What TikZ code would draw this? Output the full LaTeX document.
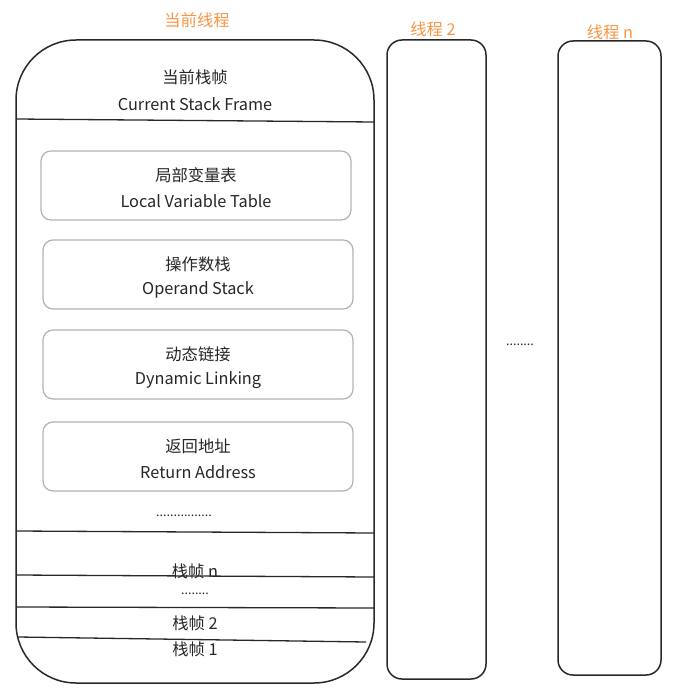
\documentclass[tikz,border=0pt]{standalone}
\usepackage{fontspec}
\setmainfont{Noto Sans CJK SC}
\definecolor{threadorange}{RGB}{247,150,70}
\definecolor{framegray}{RGB}{178,178,178}
\definecolor{linedark}{RGB}{40,40,40}
\begin{document}
\begin{tikzpicture}[x=1pt,y=-1pt,
  every node/.style={inner sep=0pt, font=\fontsize{16.3}{19}\selectfont, text=black!85},
  title/.style={text=threadorange},
  slot/.style={draw=framegray, line width=1.2pt, rounded corners=10pt},
  outer/.style={draw=linedark, line width=1.5pt},
  divider/.style={draw=linedark, line width=1.3pt},
  dotrow/.style={font=\fontsize{12.5}{14}\selectfont}]
\useasboundingbox (0,0) rectangle (680,700);

% current thread
\draw[outer, rounded corners=60pt] (16,40) rectangle (374,683);
\node[title] (t1) at (197,20) {当前线程};
\node (cur) at (195,77) {当前栈帧};
\node (curEn) at (195,104) {Current Stack Frame};
\coordinate (d0l) at (16,119); \coordinate (d0r) at (374,122);
\draw[divider] (d0l) -- (d0r);

% parts of the current frame
\draw[slot] (41,151) rectangle (351,220);
\node (lv) at (196,175) {局部变量表};
\node (lvEn) at (196,201) {Local Variable Table};
\draw[slot] (43,240) rectangle (353,309);
\node (os) at (198,264) {操作数栈};
\node (osEn) at (198,290) {Operand Stack};
\draw[slot] (43,330) rectangle (353,399);
\node (dl) at (198,354) {动态链接};
\node (dlEn) at (198,380) {Dynamic Linking};
\draw[slot] (43,422) rectangle (353,491);
\node (ra) at (198,446) {返回地址};
\node (raEn) at (198,472) {Return Address};
\node[dotrow] (dots1) at (184,516) {................};

% remaining frames
\coordinate (d1l) at (16,531); \coordinate (d1r) at (374,533);
\draw[divider] (d1l) -- (d1r);
\node (fn) at (195,571) {栈帧 n};
\coordinate (d2l) at (16,575); \coordinate (d2r) at (374,577);
\draw[divider] (d2l) -- (d2r);
\node[dotrow] (dots2) at (195,594) {........};
\coordinate (d3l) at (16,607); \coordinate (d3r) at (374,608);
\draw[divider] (d3l) -- (d3r);
\node (f2) at (195,623) {栈帧 2};
\coordinate (d4l) at (18,637); \coordinate (d4r) at (366,642);
\draw[divider] (d4l) -- (d4r);
\node (f1) at (195,649) {栈帧 1};

% other threads
\node[title] (t2) at (433,29) {线程 2};
\draw[outer, rounded corners=15pt] (387,40) rectangle (486,679);
\node[dotrow] (dots3) at (520,345) {........};
\node[title] (tn) at (610,32) {线程 n};
\draw[outer, rounded corners=15pt] (558,41) rectangle (661,675);
\end{tikzpicture}
\end{document}
